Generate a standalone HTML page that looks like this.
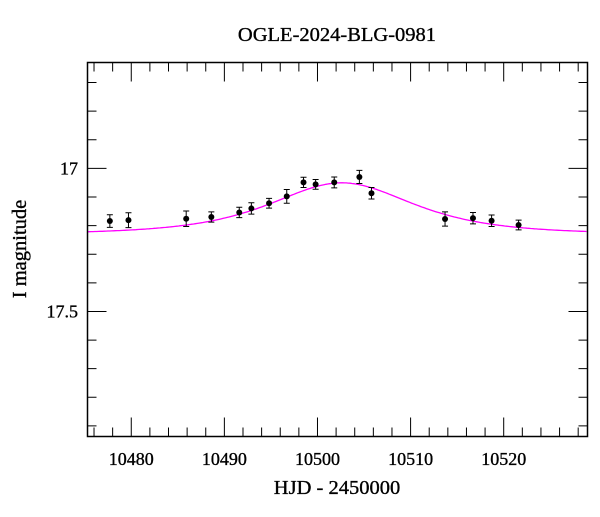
<!DOCTYPE html>
<html><head><meta charset="utf-8"><style>
body{margin:0;background:#fff}
text{font-family:"Liberation Serif",serif;fill:#000;stroke:#000;stroke-width:0.35}
</style></head><body>
<svg id="chart" width="600" height="512" xmlns="http://www.w3.org/2000/svg">
<text x="337" y="41" font-size="20.5" text-anchor="middle">OGLE-2024-BLG-0981</text>
<text x="337" y="494" font-size="20.5" text-anchor="middle">HJD - 2450000</text>
<text x="26" y="249" font-size="20.5" text-anchor="middle" transform="rotate(-90 26 249)">I magnitude</text>
<g id="ticks"></g><g id="labels"></g>
<path id="model" fill="none" stroke="#ff00ff" stroke-width="1.3"/>
<g id="points"></g>
<rect x="87.5" y="62.5" width="500" height="374" fill="none" stroke="#000" stroke-width="1.5"/>
</svg>
<script>
const times=[10477.7,10479.7,10485.9,10488.6,10491.6,10492.9,10494.8,10496.7,10498.5,10499.8,10501.8,10504.5,10505.8,10513.7,10516.7,10518.7,10521.6];
const mags=[17.184,17.181,17.176,17.170,17.154,17.140,17.122,17.098,17.049,17.056,17.049,17.030,17.087,17.177,17.174,17.183,17.198];
const errs=[0.022,0.026,0.027,0.018,0.018,0.02,0.017,0.024,0.018,0.017,0.019,0.023,0.02,0.025,0.02,0.02,0.017];
const modelParams=[10502.6,1.33,7.8,17.23]; // t0,u0,tE,baseline
const xTickLabels=[10480,10490,10500,10510,10520];
const yTickLabels=[17,17.5];
const X0=87.5,X1=587.5,Y0=62.5,Y1=436.5,T0=10475.3,T1=10529,M0=16.63,M1=17.937;
const sx=t=>X0+(t-T0)/(T1-T0)*(X1-X0);
const sy=m=>Y0+(m-M0)/(M1-M0)*(Y1-Y0);
const NS='http://www.w3.org/2000/svg';
function mk(tag,attrs,parent){const e=document.createElementNS(NS,tag);for(const k in attrs)e.setAttribute(k,attrs[k]);parent.appendChild(e);return e;}
const tk=document.getElementById('ticks'),lb=document.getElementById('labels');
let d='';
for(let t=10476;t<=10528;t+=2){const x=sx(t),L=(t%10===0)?19:9;d+=`M${x},${Y1}v${-L}M${x},${Y0}v${L}`;}
for(let i=7;i<=19;i++){const m=i/10+16;const y=sy(m);const L=(i%5===0)?19:9;d+=`M${X0},${y}h${L}M${X1},${y}h${-L}`;}
const tp=mk('path',{d:d,stroke:'#000','stroke-width':1,fill:'none'},tk);


xTickLabels.forEach(v=>{const e=mk('text',{x:sx(v),y:465,'font-size':18,'text-anchor':'middle'},lb);e.textContent=v;

});
yTickLabels.forEach(v=>{const e=mk('text',{x:78,y:sy(v)+6,'font-size':18,'text-anchor':'end'},lb);e.textContent=v;

});
const [t0,u0,tE,mb]=modelParams;let md='';
for(let t=T0;t<=T1;t+=0.2){const u=Math.sqrt(u0*u0+((t-t0)/tE)**2);const A=(u*u+2)/(u*Math.sqrt(u*u+4));const m=mb-2.5*Math.log10(A);md+=(md?'L':'M')+sx(t).toFixed(1)+','+sy(m).toFixed(1);}
document.getElementById('model').setAttribute('d',md);
const pg=document.getElementById('points');
times.forEach((t,i)=>{const x=sx(t),y=sy(mags[i]),e=errs[i];const g=mk('g',{},pg);


const y1=sy(mags[i]-e),y2=sy(mags[i]+e);
mk('path',{d:`M${x},${y1}V${y2}M${x-3},${y1}h6M${x-3},${y2}h6`,stroke:'#000','stroke-width':1,fill:'none'},g);
mk('circle',{cx:x,cy:y,r:3,fill:'#000'},g);});
</script>
</body></html>
